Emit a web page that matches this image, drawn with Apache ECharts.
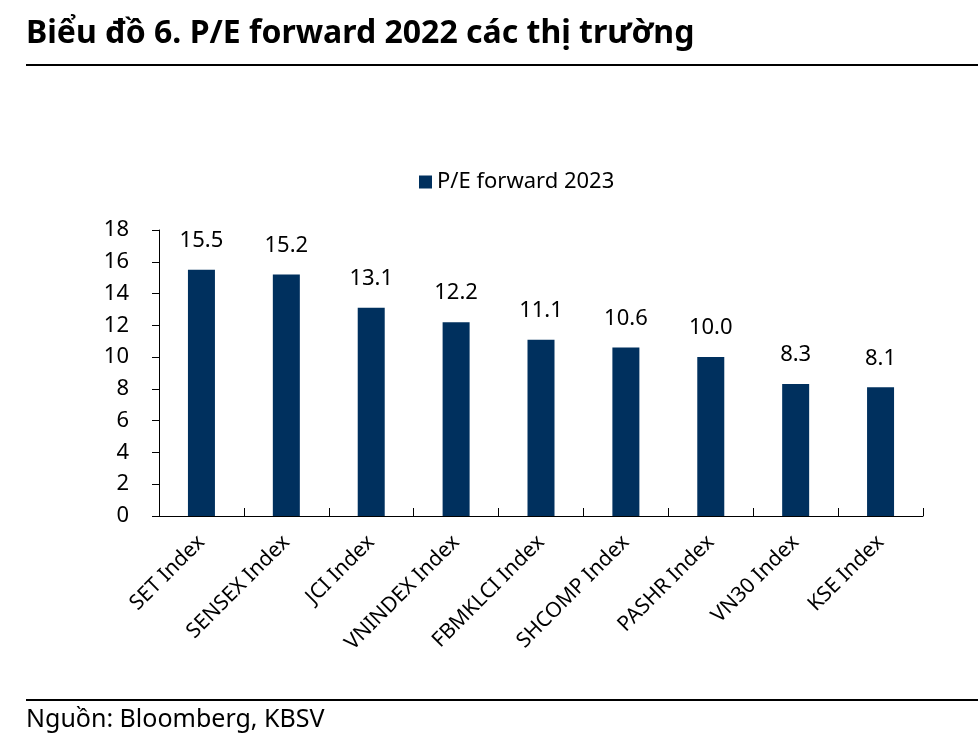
<!DOCTYPE html>
<html><head><meta charset="utf-8">
<script src="https://cdn.jsdelivr.net/npm/echarts@6/dist/echarts.min.js"></script>
<style>html,body{margin:0;padding:0;background:#fff}#c{width:978px;height:756px}</style>
</head><body><div id="c"></div>
<script>
const categories = ["SET Index","SENSEX Index","JCI Index","VNINDEX Index","FBMKLCI Index","SHCOMP Index","PASHR Index","VN30 Index","KSE Index"];
const peValues = [15.5,15.2,13.1,12.2,11.1,10.6,10.0,8.3,8.1];
const seriesName = "P/E forward 2023";
const titleText = "Biểu đồ 6. P/E forward 2022 các thị trường";
const sourceText = "Nguồn: Bloomberg, KBSV";
const FONT = "'Noto Sans', sans-serif";
const chart = echarts.init(document.getElementById('c'));
chart.setOption({
  animation:false,
  backgroundColor:'#fff',
  graphic:[
    {type:'text',left:26,top:18,style:{text:titleText,font:"bold 32px 'Noto Sans', sans-serif",fill:'#000'}},
    {type:'line',shape:{x1:26,y1:65,x2:978,y2:65},style:{stroke:'#000',lineWidth:2}},
    {type:'line',shape:{x1:26,y1:700,x2:978,y2:700},style:{stroke:'#000',lineWidth:2}},
    {type:'text',left:26,top:707,style:{text:sourceText,font:"25px 'Noto Sans', sans-serif",fill:'#000'}}
  ],
  legend:{top:166,left:414,itemWidth:13,itemHeight:13,icon:'rect',itemGap:8,
    textStyle:{fontFamily:FONT,fontSize:22,color:'#000'},data:[seriesName]},
  grid:{left:159,right:55,top:230,bottom:240,containLabel:false},
  xAxis:{type:'category',data:categories,
    axisLine:{lineStyle:{color:'#000',width:1}},
    axisTick:{show:true,inside:true,length:8,alignWithLabel:false,lineStyle:{color:'#000'}},
    axisLabel:{rotate:45,interval:0,margin:23,fontFamily:FONT,fontSize:21,color:'#000'}},
  yAxis:{type:'value',min:0,max:18,interval:2,
    axisLine:{show:true,lineStyle:{color:'#000'}},
    axisTick:{show:true,length:7,lineStyle:{color:'#000'}},
    splitLine:{show:false},
    axisLabel:{margin:30,fontFamily:FONT,fontSize:22,color:'#000'}},
  series:[{name:seriesName,type:'bar',data:peValues,barWidth:27,
    itemStyle:{color:'#00305E'},
    label:{show:true,position:'top',distance:18,formatter:p=>p.value.toFixed(1),fontFamily:FONT,fontSize:22,color:'#000'}}]
});
</script></body></html>
